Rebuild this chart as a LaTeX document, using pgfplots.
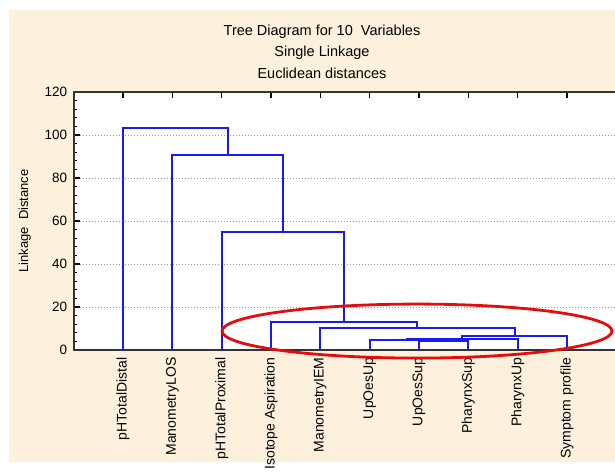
\documentclass[border=0pt]{standalone}
\usepackage{pgfplots}
\pgfplotsset{compat=1.18}
\usepackage{fontspec}
\setmainfont{Liberation Sans}
\definecolor{panel}{RGB}{253,240,220}
\definecolor{treeblue}{RGB}{25,25,240}
\definecolor{ringred}{RGB}{228,12,12}
\tikzset{link/.style={draw=treeblue, line width=2pt, mark=none}}

\begin{document}
\begin{tikzpicture}
\useasboundingbox (0,0) rectangle (615pt,471pt);
\fill[white] (0,0) rectangle (615pt,471pt);
\fill[panel] (9pt,9pt) rectangle (615pt,461pt);
\node[align=center, font=\fontsize{14.5}{21.5}\selectfont] at (322pt,419.5pt)
  {Tree Diagram for 10\ \ Variables\\Single Linkage\\Euclidean distances};
\begin{axis}[
  at={(73.7pt,121pt)}, anchor=south west,
  scale only axis, width=542.6pt, height=258pt,
  xmin=0, xmax=11, ymin=0, ymax=120,
  clip=false,
  axis background/.style={fill=white},
  xtick={1,...,10},
  xticklabels={pHTotalDistal, ManometryLOS, pHTotalProximal, Isotope Aspiration,
    ManometryIEM, UpOesUp, UpOesSup, PharynxSup, PharynxUp, Symptom profile},
  xticklabel style={yshift=-4pt, rotate=90, anchor=east,
    font=\fontsize{14}{16}\selectfont},
  ytick={0,20,...,120}, minor y tick num=4, ytick pos=left,
  yticklabel style={xshift=-3pt, font=\fontsize{13.5}{15}\selectfont},
  tick align=inside, major tick length=6pt, minor tick length=3.5pt,
  ymajorgrids, grid style={dash pattern=on 1.2pt off 1.8pt, black!40, line width=0.9pt},
  axis line style={black!80, line width=1.6pt},
  every major tick/.append style={black, line width=1.4pt},
  every minor tick/.append style={black, line width=1.1pt},
  /pgf/number format/assume math mode=true,
  ylabel={Linkage\ \ Distance},
  ylabel style={at={(axis description cs:-0.09,0.5)}, anchor=center,
    font=\fontsize{13}{15}\selectfont},
]
% single-linkage merges, leaf positions 1..10, node at the midpoint of its children
\addplot[link] coordinates {(7,0) (7,4.4) (8,4.4) (8,0)};
\addplot[link] coordinates {(6,0) (6,4.7) (7.5,4.7) (7.5,4.4)};
\addplot[link] coordinates {(6.75,4.7) (6.75,5.3) (9,5.3) (9,0)};
\addplot[link] coordinates {(7.875,5.3) (7.875,6.7) (10,6.7) (10,0)};
\addplot[link] coordinates {(5,0) (5,10.1) (8.9375,10.1) (8.9375,6.7)};
\addplot[link] coordinates {(4,0) (4,13.2) (6.96875,13.2) (6.96875,10.1)};
\addplot[link] coordinates {(3,0) (3,54.9) (5.484375,54.9) (5.484375,13.2)};
\addplot[link] coordinates {(2,0) (2,90.7) (4.2421875,90.7) (4.2421875,54.9)};
\addplot[link] coordinates {(1,0) (1,103.4) (3.12109375,103.4) (3.12109375,90.7)};
% highlight around the closely linked variables
\draw[ringred, line width=2.8pt] (axis cs:6.96,8.8) ellipse [x radius=195pt, y radius=27pt];
\end{axis}
\clip (0,0) rectangle (615pt,471pt);
\end{tikzpicture}
\end{document}
